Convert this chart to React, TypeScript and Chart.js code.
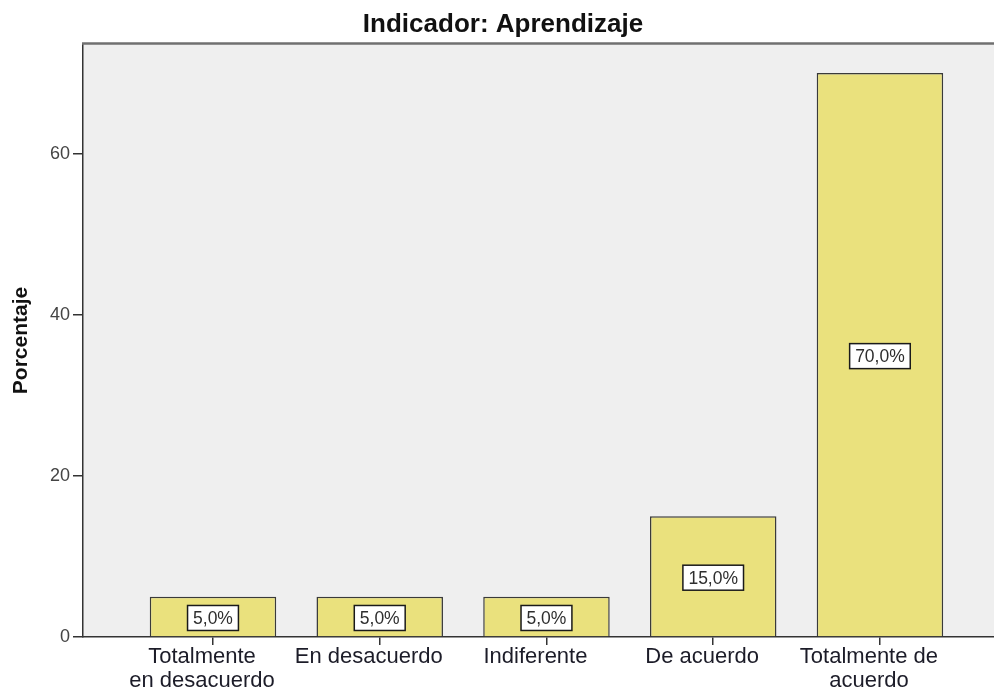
import React, { useEffect, useRef } from "react";
import { Chart, registerables } from "chart.js";

Chart.register(...registerables);

const title = "Indicador: Aprendizaje";
const yTitle = "Porcentaje";
const categories = [
  "Totalmente en desacuerdo",
  "En desacuerdo",
  "Indiferente",
  "De acuerdo",
  "Totalmente de acuerdo",
];
const tickLabels: string[][] = [
  ["Totalmente", "en desacuerdo"],
  ["En desacuerdo"],
  ["Indiferente"],
  ["De acuerdo"],
  ["Totalmente de", "acuerdo"],
];
const percentages = [5.0, 5.0, 5.0, 15.0, 70.0];
const valueLabels = ["5,0%", "5,0%", "5,0%", "15,0%", "70,0%"];
const yTicks = [0, 20, 40, 60];

const FONT = "'Liberation Sans', Arial, sans-serif";

const decorPlugin = {
  id: "decor",
  beforeDraw(chart: any) {
    const { ctx, chartArea } = chart;
    ctx.save();
    ctx.fillStyle = "#EFEFEF";
    ctx.fillRect(chartArea.left, chartArea.top, chartArea.right - chartArea.left, chartArea.bottom - chartArea.top);
    ctx.restore();
  },
  afterDatasetsDraw(chart: any) {
    const { ctx } = chart;
    const meta = chart.getDatasetMeta(0);
    ctx.save();
    ctx.font = `17.5px ${FONT}`;
    ctx.textAlign = "center";
    ctx.textBaseline = "middle";
    meta.data.forEach((bar: any, i: number) => {
      const text = valueLabels[i];
      const w = ctx.measureText(text).width + 11;
      const h = 25;
      const cx = bar.x;
      const cy = (bar.y + bar.base) / 2 + 1.5;
      ctx.fillStyle = "#FFFFFF";
      ctx.fillRect(cx - w / 2, cy - h / 2, w, h);
      ctx.strokeStyle = "#1a1a1a";
      ctx.lineWidth = 1.5;
      ctx.strokeRect(cx - w / 2, cy - h / 2, w, h);
      ctx.fillStyle = "#2e2e2e";
      ctx.fillText(text, cx, cy + 1);
    });
    ctx.restore();
  },
  afterDraw(chart: any) {
    const { ctx, chartArea } = chart;
    ctx.save();
    ctx.strokeStyle = "#707070";
    ctx.lineWidth = 2.5;
    ctx.beginPath();
    ctx.moveTo(chartArea.left - 1, chartArea.top - 0.5);
    ctx.lineTo(chart.width, chartArea.top - 0.5);
    ctx.stroke();
    ctx.restore();
  },
};

export default function App() {
  const ref = useRef<HTMLCanvasElement | null>(null);

  useEffect(() => {
    if (!ref.current) return;
    const chart = new Chart(ref.current, {
      type: "bar",
      data: {
        datasets: [
          {
            label: yTitle,
            data: percentages.map((v, i) => ({ x: i, y: v })),
            backgroundColor: "#EAE17D",
            borderColor: "#3a3a3a",
            borderWidth: 1.5,
            barPercentage: 0.7586,
            categoryPercentage: 1,
          },
        ],
      },
      options: {
        responsive: false,
        animation: false,
        devicePixelRatio: 1,
        layout: { padding: 0 },
        plugins: {
          legend: { display: false },
          tooltip: { enabled: false },
          title: {
            display: true,
            text: title,
            color: "#111111",
            font: { family: FONT, size: 26, weight: "bold", lineHeight: 1.2 },
            padding: { top: 9, bottom: 3.8 },
          },
        },
        scales: {
          x: {
            type: "linear",
            offset: false,
            min: -0.7796,
            max: 4.756,
            afterBuildTicks: (scale: any) => {
              scale.ticks = categories.map((_, i) => ({ value: i }));
            },
            afterFit: (scale: any) => {
              scale.height = 55;
            },
            ticks: {
              autoSkip: false,
              maxRotation: 0,
              minRotation: 0,
              padding: 0,
              labelOffset: -11,
              color: "#1c1c28",
              font: { family: FONT, size: 22, lineHeight: 1.08 },
              callback: (value: any) => tickLabels[value as number] ?? "",
            },
            grid: {
              display: true,
              offset: false,
              drawOnChartArea: false,
              drawTicks: true,
              tickLength: 8,
              color: "#333333",
              lineWidth: 1.5,
            },
            border: { display: true, color: "#333333", width: 1.5 },
          },
          y: {
            min: 0,
            max: 73.6,
            afterBuildTicks: (scale: any) => {
              scale.ticks = yTicks.map((v) => ({ value: v }));
            },
            afterFit: (scale: any) => {
              scale.width = 83;
            },
            ticks: {
              includeBounds: false,
              padding: 3,
              color: "#444444",
              font: { family: FONT, size: 18 },
              callback: (value: any) => String(value),
            },
            grid: {
              display: true,
              drawOnChartArea: false,
              drawTicks: true,
              tickLength: 10,
              color: "#333333",
              lineWidth: 1.5,
            },
            border: { display: true, color: "#333333", width: 1.5 },
            title: {
              display: true,
              text: yTitle,
              color: "#111111",
              font: { family: FONT, size: 21, weight: "bold", lineHeight: 1.2 },
              padding: { top: 9, bottom: 0 },
            },
          },
        },
      },
      plugins: [decorPlugin],
    } as any);
    return () => chart.destroy();
  }, []);

  return (
    <div
      style={{
        position: "fixed",
        left: 0,
        top: 0,
        width: 994,
        height: 692,
        overflow: "hidden",
        background: "#ffffff",
      }}
    >
      <canvas ref={ref} width={1006} height={692} style={{ display: "block", width: 1006, height: 692 }} />
    </div>
  );
}
